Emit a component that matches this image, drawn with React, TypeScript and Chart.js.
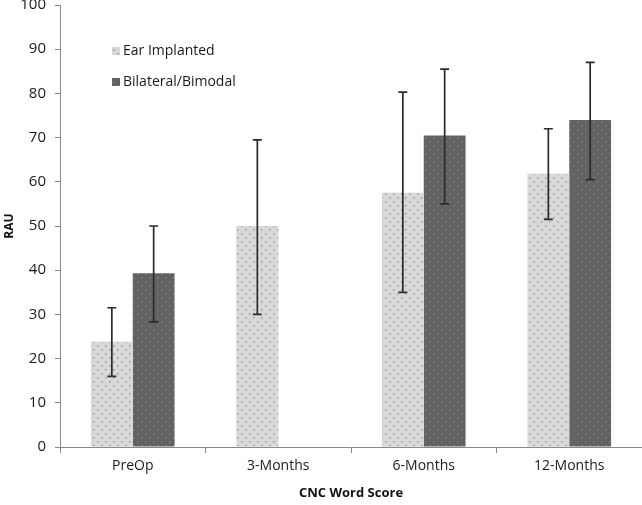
import React, { useEffect, useRef } from "react";
import { Chart, registerables } from "chart.js";

Chart.register(...registerables);

const categories = ["PreOp", "3-Months", "6-Months", "12-Months"];
const seriesNames = ["Ear Implanted", "Bilateral/Bimodal"];
const earValues = [23.8, 50, 57.5, 61.8];
const earLow = [16, 30, 35, 51.5];
const earHigh = [31.5, 69.5, 80.3, 72];
const biValues = [39.3, null, 70.5, 74];
const biLow = [28.3, null, 55, 60.5];
const biHigh = [50, null, 85.5, 87];
const yTicks = [0, 10, 20, 30, 40, 50, 60, 70, 80, 90, 100];

function makePattern(bg: string, dot: string) {
  const c = document.createElement("canvas");
  c.width = 8;
  c.height = 8;
  const ctx = c.getContext("2d")!;
  ctx.fillStyle = bg;
  ctx.fillRect(0, 0, 8, 8);
  ctx.fillStyle = dot;
  ctx.fillRect(1, 1, 1.5, 1.5);
  ctx.fillRect(5, 5, 1.5, 1.5);
  return ctx.createPattern(c, "repeat")!;
}

const errorBarPlugin = {
  id: "errorBars",
  afterDatasetsDraw(chart: any) {
    const ctx = chart.ctx;
    const y = chart.scales.y;
    const lows = [earLow, biLow];
    const highs = [earHigh, biHigh];
    ctx.save();
    ctx.strokeStyle = "#2b2b2b";
    ctx.lineWidth = 1.7;
    [0, 1].forEach((di) => {
      const meta = chart.getDatasetMeta(di);
      meta.data.forEach((bar: any, i: number) => {
        const lo = lows[di][i];
        const hi = highs[di][i];
        if (lo == null || hi == null) return;
        const x = bar.x;
        const y1 = y.getPixelForValue(lo);
        const y2 = y.getPixelForValue(hi);
        ctx.beginPath();
        ctx.moveTo(x, y1);
        ctx.lineTo(x, y2);
        ctx.moveTo(x - 4.5, y1);
        ctx.lineTo(x + 4.5, y1);
        ctx.moveTo(x - 4.5, y2);
        ctx.lineTo(x + 4.5, y2);
        ctx.stroke();
      });
    });
    ctx.restore();
  },
};

const legendPlugin = {
  id: "customLegend",
  afterDraw(chart: any) {
    const ctx = chart.ctx;
    const items = [
      { label: seriesNames[0], fill: chart.data.datasets[0].backgroundColor },
      { label: seriesNames[1], fill: chart.data.datasets[1].backgroundColor },
    ];
    ctx.save();
    ctx.font = "14px 'Open Sans', sans-serif";
    ctx.textBaseline = "middle";
    items.forEach((it, i) => {
      const cy = 51 + i * 31;
      ctx.fillStyle = it.fill;
      ctx.fillRect(112, cy - 4, 8, 8);
      ctx.fillStyle = "#1a1a1a";
      ctx.fillText(it.label, 123, cy);
    });
    ctx.restore();
  },
};

export default function App() {
  const ref = useRef<HTMLCanvasElement | null>(null);
  useEffect(() => {
    document.body.style.margin = "0";
    const earPat = makePattern("#d8d8d8", "#9a9a9a");
    const biPat = makePattern("#626262", "#808080");
    const chart = new Chart(ref.current!, {
      type: "bar",
      data: {
        labels: categories,
        datasets: [
          {
            label: seriesNames[0],
            data: earValues,
            backgroundColor: earPat as any,
            categoryPercentage: 0.575,
            barPercentage: 1,
          },
          {
            label: seriesNames[1],
            data: biValues as any,
            backgroundColor: biPat as any,
            categoryPercentage: 0.575,
            barPercentage: 1,
          },
        ],
      },
      options: {
        animation: false,
        responsive: false,
        layout: { padding: { top: 5, right: 0, left: 0, bottom: 0 } },
        plugins: { legend: { display: false }, tooltip: { enabled: false } },
        scales: {
          x: {
            grid: { display: true, drawOnChartArea: false, offset: true, tickLength: 6, color: "#888" },
            border: { color: "#888", width: 1 },
            ticks: { color: "#1a1a1a", font: { family: "'Open Sans', sans-serif", size: 14 }, padding: 5 },
            title: {
              display: true,
              text: "CNC Word Score",
              color: "#111",
              font: { family: "'Open Sans', sans-serif", size: 13, weight: "bold" },
              padding: { top: 3, bottom: 4 },
            },
            afterFit: (s: any) => {
              s.height = 58;
            },
          },
          y: {
            min: 0,
            max: 100,
            afterBuildTicks: (s: any) => {
              s.ticks = yTicks.map((v) => ({ value: v }));
            },
            grid: { display: true, drawOnChartArea: false, tickLength: 5, color: "#888" },
            border: { color: "#888", width: 1 },
            ticks: { color: "#1a1a1a", font: { family: "'Open Sans', sans-serif", size: 15 }, padding: 9 },
            title: {
              display: true,
              text: "RAU",
              color: "#111",
              font: { family: "'Open Sans', sans-serif", size: 12, weight: "bold" },
              padding: { top: 2, bottom: 4 },
            },
            afterFit: (s: any) => {
              s.width = 60;
              s.paddingTop = 0;
              s.paddingBottom = 0;
            },
          },
        },
      },
      plugins: [errorBarPlugin, legendPlugin],
    });
    return () => chart.destroy();
  }, []);
  return <canvas ref={ref} width={642} height={505} style={{ display: "block" }} />;
}
